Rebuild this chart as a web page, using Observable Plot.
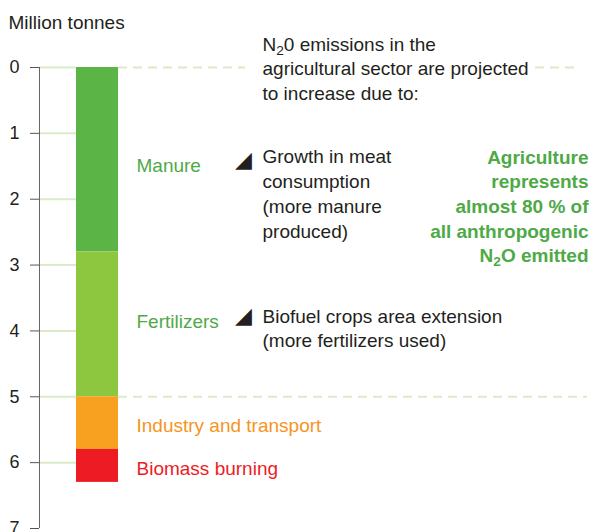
<!DOCTYPE html>
<html>
<head>
<meta charset="utf-8">
<script src="https://cdn.jsdelivr.net/npm/d3@7"></script>
<script src="https://cdn.jsdelivr.net/npm/@observablehq/plot@0.6"></script>
<style>
  body { margin: 0; background: #fff; }
  #chart svg { display: block; }
</style>
</head>
<body>
<div id="chart"></div>
<script>
// ---- data ----
const categories = ["Manure", "Fertilizers", "Industry and transport", "Biomass burning"];
const values = [2.8, 2.2, 0.8, 0.5]; // million tonnes N2O
const barColors = ["#5ab446", "#8dc63f", "#f8a01f", "#ed1c24"];
const labelColors = ["#4fa948", "#4fa948", "#f7941d", "#ed1c24"];
const yTicks = [0, 1, 2, 3, 4, 5, 6, 7];
const yTickLabels = ["0", "1", "2", "3", "4", "5", "6", "7"];
const axisTitle = "Million tonnes";
const headerText = "N₂0 emissions in the\nagricultural sector are projected\nto increase due to:";
const manureNote = "Growth in meat\nconsumption\n(more manure\nproduced)";
const fertNote = "Biofuel crops area extension\n(more fertilizers used)";
const highlight = "Agriculture\nrepresents\nalmost 80 % of\nall anthropogenic\nN₂O emitted";

// ---- derived rows ----
const ends = d3.cumsum(values);
const rows = categories.map((name, i) => ({
  name,
  y1: ends[i] - values[i],
  y2: ends[i],
  mid: ends[i] - values[i] / 2,
  fill: barColors[i],
  labelFill: labelColors[i]
}));
const agriEnd = ends[1];

// ---- layout constants (pixels) ----
const AXIS_X = 39, BAR_X1 = 76, BAR_X2 = 118, LABEL_X = 136, NOTE_X = 262, ARROW_X = 243, RIGHT_X = 588;
const labelDy = [6, -2, 3, 3];
const GRID = "#d9ebc9";
const TEXT = "#231f20";
const GREEN = "#4ea947";

const chart = Plot.plot({
  width: 598,
  height: 532,
  marginTop: 67,
  marginBottom: 4,
  marginLeft: AXIS_X,
  marginRight: 0,
  x: {domain: [AXIS_X, 598], axis: null},
  y: {domain: [0, 7], reverse: true, axis: null},
  color: {type: "identity"},
  style: {
    fontFamily: "'Liberation Sans', Arial, sans-serif",
    fontSize: "19px",
    color: TEXT,
    background: "#fff",
    overflow: "visible"
  },
  marks: [
    // light green tick extensions
    Plot.ruleY(yTicks.slice(0, 7), {x1: AXIS_X, x2: BAR_X1, stroke: GRID, strokeWidth: 2}),
    // dashed guide lines
    Plot.ruleY([0], {x1: BAR_X2, x2: 245, stroke: GRID, strokeWidth: 2, strokeDasharray: "9,6"}),
    Plot.ruleY([0], {x1: 535, x2: 575, stroke: GRID, strokeWidth: 2, strokeDasharray: "9,6"}),
    Plot.ruleY([agriEnd], {x1: BAR_X2, x2: 587, stroke: GRID, strokeWidth: 2, strokeDasharray: "9,6"}),
    // stacked bar
    Plot.rect(rows, {x1: BAR_X1, x2: BAR_X2, y1: "y1", y2: "y2", fill: "fill"}),
    // axis
    Plot.ruleX([AXIS_X], {y1: 0, y2: 7, stroke: "#666", strokeWidth: 1}),
    Plot.axisY(yTicks, {anchor: "left", tickSize: 9, tickPadding: 11, fontSize: 18, fill: TEXT, stroke: "#555",
      tickFormat: (d) => yTickLabels[yTicks.indexOf(d)]}),
    Plot.text([axisTitle], {x: 8, y: 0, dy: -39, lineAnchor: "bottom", textAnchor: "start", fill: TEXT, fontSize: 19}),
    // segment labels
    ...rows.map((r, i) => Plot.text([r], {x: LABEL_X, y: "mid", dy: labelDy[i], text: "name", fill: "labelFill", textAnchor: "start", fontSize: 19})),
    // arrowheads
    Plot.text([rows[0].mid], {x: ARROW_X, y: d => d, dy: 0, text: () => "◢", fontSize: 22, fill: TEXT}),
    Plot.text([rows[1].mid], {x: ARROW_X, y: d => d, dy: -8, text: () => "◢", fontSize: 22, fill: TEXT}),
    // notes
    Plot.text([headerText], {x: NOTE_X, y: 0, dy: 0, textAnchor: "start", lineAnchor: "middle", lineHeight: 1.3, fill: TEXT, fontSize: 19}),
    Plot.text([manureNote], {x: NOTE_X, y: 1.9, textAnchor: "start", lineAnchor: "middle", lineHeight: 1.3, fill: TEXT, fontSize: 19}),
    Plot.text([fertNote], {x: NOTE_X, y: 3.94, textAnchor: "start", lineAnchor: "middle", lineHeight: 1.3, fill: TEXT, fontSize: 19}),
    Plot.text([highlight], {x: RIGHT_X, y: 2.09, textAnchor: "end", lineAnchor: "middle", lineHeight: 1.3, fill: GREEN, fontWeight: "bold", fontSize: 19})
  ]
});

// render "₂" as a real subscript
const NS = "http://www.w3.org/2000/svg";
chart.querySelectorAll("text, tspan").forEach(node => {
  if (node.childNodes.length === 1 && node.firstChild.nodeType === 3 && node.textContent.includes("₂")) {
    const [a, b] = node.textContent.split("₂");
    node.textContent = "";
    node.append(a);
    const sub = document.createElementNS(NS, "tspan");
    sub.setAttribute("font-size", "0.72em");
    sub.setAttribute("dy", "4");
    sub.textContent = "2";
    node.append(sub);
    const rest = document.createElementNS(NS, "tspan");
    rest.setAttribute("dy", "-4");
    rest.textContent = b;
    node.append(rest);
  }
});

document.getElementById("chart").append(chart);
</script>
</body>
</html>
